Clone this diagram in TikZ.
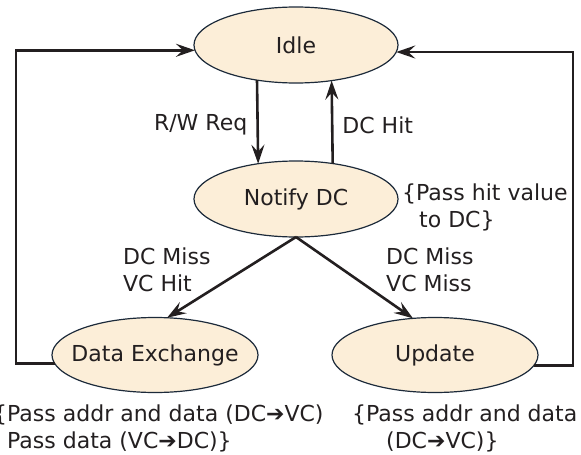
\documentclass[tikz,border=0pt]{standalone}
\usepackage{fontspec}
\setmainfont{DejaVu Sans}
\usetikzlibrary{arrows.meta,shapes.geometric}
\definecolor{ink}{HTML}{231F20}
\definecolor{edgec}{HTML}{1C2A3A}
\definecolor{cream}{HTML}{FCEED8}
\begin{document}
\begin{tikzpicture}[x=1pt,y=-1pt,font=\fontsize{22}{27}\selectfont,text=ink,
  state/.style={ellipse,draw=edgec,line width=1.2pt,fill=cream,minimum width=204pt,minimum height=76pt,inner sep=0pt,outer sep=0pt},
  flow/.style={draw=ink,line width=2.6pt,-{Stealth[length=19pt,width=13pt,inset=7pt]}},
  lbl/.style={inner sep=0pt,align=left}]
\useasboundingbox (0,0) rectangle (581,455);
\node[state] (idle) at (296,45) {\makebox[0pt]{Idle}};
\node[state] (notify) at (296,199) {\makebox[0pt]{Notify DC}};
\node[state,minimum width=206pt,minimum height=75pt] (dx) at (155,355) {\makebox[0pt]{Data Exchange}};
\node[state,minimum width=206pt,minimum height=75pt] (upd) at (435,355) {\makebox[0pt]{Update}};
\coordinate (lx) at (16,0);
\coordinate (rx) at (573,0);
\draw[flow] (idle.222.86) -- node[lbl,anchor=east,xshift=-9pt,yshift=-3pt]{R/W Req} (notify.137.14);
\draw[flow] (notify.44.64) -- node[lbl,anchor=west,xshift=9pt,yshift=-3pt]{DC Hit} (idle.315.36);
\draw[flow] (notify.south) -- (dx.72.1);
\draw[flow] (notify.south) -- (upd.121);
\draw[flow] (dx.185.75) -| (lx |- idle.183.98) -- (idle.183.98);
\draw[flow] (upd.354.25) -| (rx |- idle.356.02) -- (idle.356.02);
\node[lbl,anchor=west] (l1) at (123,270) {DC Miss\\VC Hit};
\node[lbl,anchor=west] (l2) at (386,270) {DC Miss\\VC Miss};
\node[lbl,anchor=west] (n1) at (402,207) {\{Pass hit value\\\hspace*{17pt}to DC\}};
\node[lbl,anchor=west] (n2) at (-7,428) {\{Pass addr and data (DC➔VC)\\\hphantom{\{}Pass data (VC➔DC)\}};
\node[lbl,anchor=west] (n3) at (352,428) {\{Pass addr and data\\\hspace*{34pt}(DC➔VC)\}};
\end{tikzpicture}
\end{document}
